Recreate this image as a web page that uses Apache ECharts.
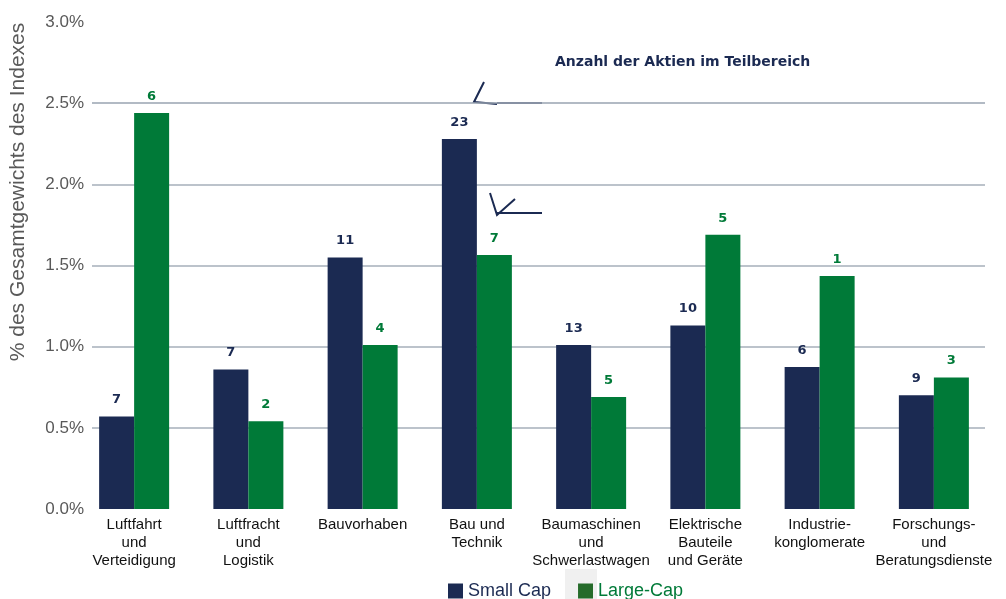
<!DOCTYPE html>
<html><head><meta charset="utf-8">
<script src="https://cdn.jsdelivr.net/npm/echarts@6/dist/echarts.min.js"></script>
<style>html,body{margin:0;padding:0;background:#fff}#c{width:1006px;height:599px}</style>
</head><body><div id="c"></div>
<script>
const categories = ['Luftfahrt\nund\nVerteidigung','Luftfracht\nund\nLogistik','Bauvorhaben','Bau und\nTechnik','Baumaschinen\nund\nSchwerlastwagen','Elektrische\nBauteile\nund Geräte','Industrie-\nkonglomerate','Forschungs-\nund\nBeratungsdienste'];
const smallCap = [0.57, 0.86, 1.55, 2.28, 1.01, 1.13, 0.875, 0.70];
const largeCap = [2.44, 0.54, 1.01, 1.565, 0.69, 1.69, 1.435, 0.81];
const smallCount = [7, 7, 11, 23, 13, 10, 6, 9];
const largeCount = [6, 2, 4, 7, 5, 5, 1, 3];
const yTicks = [0, 0.5, 1.0, 1.5, 2.0, 2.5, 3.0];

const navy = '#1b2a52', green = '#007a38';
const chart = echarts.init(document.getElementById('c'));
chart.setOption({
  animation:false,
  grid:[{left:77,right:15,top:22,bottom:90},{left:88,right:21,top:22,bottom:90}],
  legend:{top:577,left:443,itemWidth:15,itemHeight:15,itemGap:27,icon:'rect',
    data:[{name:'Small Cap',textStyle:{color:navy}},{name:'Large-Cap',textStyle:{color:green},itemStyle:{color:'#256b2a'}}],
    textStyle:{fontFamily:'Liberation Sans, Arial',fontSize:18}},
  xAxis:[{type:'category',gridIndex:0,data:categories,axisLine:{show:false},axisTick:{show:false},
    axisLabel:{interval:0,fontFamily:'Liberation Sans, Arial',fontSize:15,lineHeight:18,color:'#111',margin:7}},
    {type:'category',gridIndex:1,data:categories,show:false}],
  yAxis:[{type:'value',gridIndex:0,min:0,max:3,interval:0.5,show:false},
    {type:'value',gridIndex:1,min:0,max:3,interval:0.5,
     name:'% des Gesamtgewichts des Indexes',nameLocation:'middle',nameGap:63,
     nameTextStyle:{fontFamily:'Liberation Sans, Arial',fontSize:21,color:'#595959',padding:[0,0,0,147]},
     axisLine:{show:false},axisTick:{show:false},
     axisLabel:{formatter:v=>yTicks.includes(v)?v.toFixed(1)+'%':'',fontFamily:'Liberation Sans, Arial',fontSize:17,color:'#595959',margin:8},
     splitLine:{lineStyle:{color:['rgba(0,0,0,0)','#a6afba','#a6afba','#a6afba','#a6afba','#98a3b0','rgba(0,0,0,0)'],width:1.5}}}],
  series:[
    {name:'Small Cap',type:'bar',xAxisIndex:0,yAxisIndex:0,barWidth:35,barGap:'0%',itemStyle:{color:navy},
     data:smallCap.map((v,i)=>({value:v,count:smallCount[i]})),
     label:{show:true,position:'top',distance:10,formatter:p=>p.data.count,color:navy,fontWeight:'bold',fontFamily:'DejaVu Sans',fontSize:13}},
    {name:'Large-Cap',type:'bar',xAxisIndex:0,yAxisIndex:0,barWidth:35,barGap:'0%',itemStyle:{color:green},
     data:largeCap.map((v,i)=>({value:v,count:largeCount[i]})),
     label:{show:true,position:'top',distance:10,formatter:p=>p.data.count,color:green,fontWeight:'bold',fontFamily:'DejaVu Sans',fontSize:13}}
  ],
  graphic:[
    {type:'rect',z:-10,shape:{x:565,y:569,width:32,height:30},style:{fill:'#f0f0f0'}},
    {type:'text',left:555,top:55,style:{text:'Anzahl der Aktien im Teilbereich',fill:navy,font:'bold 14px DejaVu Sans'}},
    {type:'polyline',shape:{points:[[484,82],[474,102],[497,104]]},style:{stroke:navy,lineWidth:2,fill:null}},
    {type:'line',shape:{x1:497,y1:103,x2:542,y2:103},style:{stroke:navy,lineWidth:1.5}},
    {type:'polyline',shape:{points:[[490,193],[497,215],[515,199]]},style:{stroke:navy,lineWidth:2,fill:null}},
    {type:'line',shape:{x1:497,y1:213,x2:542,y2:213},style:{stroke:navy,lineWidth:2}}
  ]
});
</script></body></html>
